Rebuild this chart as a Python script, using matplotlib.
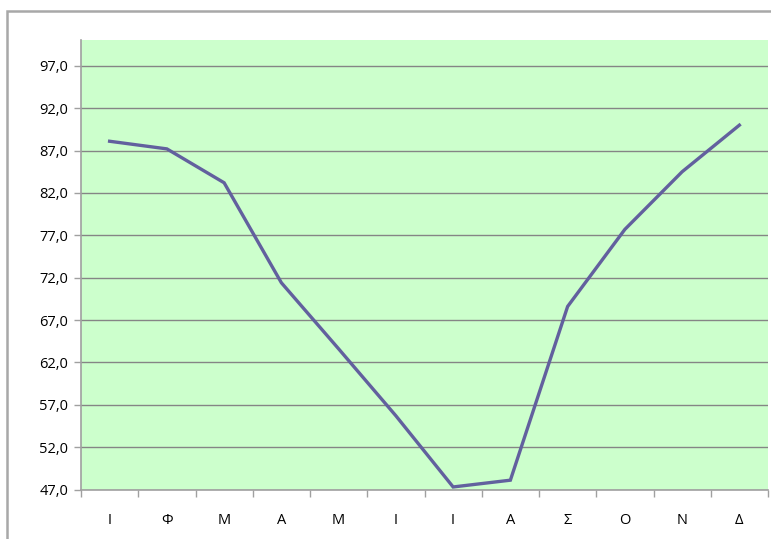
import numpy as np
import matplotlib.pyplot as plt
from matplotlib.patches import Rectangle

months = ['Ι', 'Φ', 'Μ', 'Α', 'Μ', 'Ι', 'Ι', 'Α', 'Σ', 'Ο', 'Ν', 'Δ']
values = [88.1, 87.2, 83.2, 71.4, 63.6, 55.7, 47.3, 48.1, 68.6, 77.7, 84.5, 90.0]
yticks = [47, 52, 57, 62, 67, 72, 77, 82, 87, 92, 97]

plt.rcParams['font.family'] = ['Open Sans', 'DejaVu Sans']

W, H = 771, 539
fig = plt.figure(figsize=(W / 100, H / 100), dpi=100)
ax = fig.add_axes([81 / W, 1 - 489.5 / H, (768 - 81) / W, (489.5 - 40) / H])
ax.set_facecolor('#ccffcc')

x = np.arange(len(months))
ax.plot(x, values, color='#62609e', lw=2.4, solid_joinstyle='miter', zorder=3)

ax.set_xlim(-0.5, len(months) - 0.5)
ax.set_ylim(47, 100.05)

# category boundaries get the tick marks, labels sit in the middle
ax.set_xticks(np.arange(-0.5, len(months)), labels=[''] * (len(months) + 1))
ax.set_xticks(x, labels=months, minor=True)
ax.tick_params(axis='x', which='major', length=5, width=1, color='#a0a0a0', direction='out')
ax.tick_params(axis='x', which='minor', length=0, pad=17, labelsize=10.5)

ax.set_yticks(yticks, labels=[f'{v:.1f}'.replace('.', ',') for v in yticks])
ax.tick_params(axis='y', length=5, width=1, color='#a0a0a0', direction='out', pad=4, labelsize=10.5)
ax.yaxis.grid(True, color='#858585', lw=1)
ax.set_axisbelow(True)

for s in ['top', 'right']:
    ax.spines[s].set_visible(False)
for s in ['left', 'bottom']:
    ax.spines[s].set_color('#a0a0a0')
    ax.spines[s].set_linewidth(1.2)

# outer chart frame, cut by the image edge on the right and bottom
fig.patches.append(Rectangle((7 / W, -0.1), 1.1, 1 - 11 / H + 0.1, transform=fig.transFigure,
                             fill=False, edgecolor='#a8a8a8', lw=1.8))

fig.savefig('out.png', dpi=100)
